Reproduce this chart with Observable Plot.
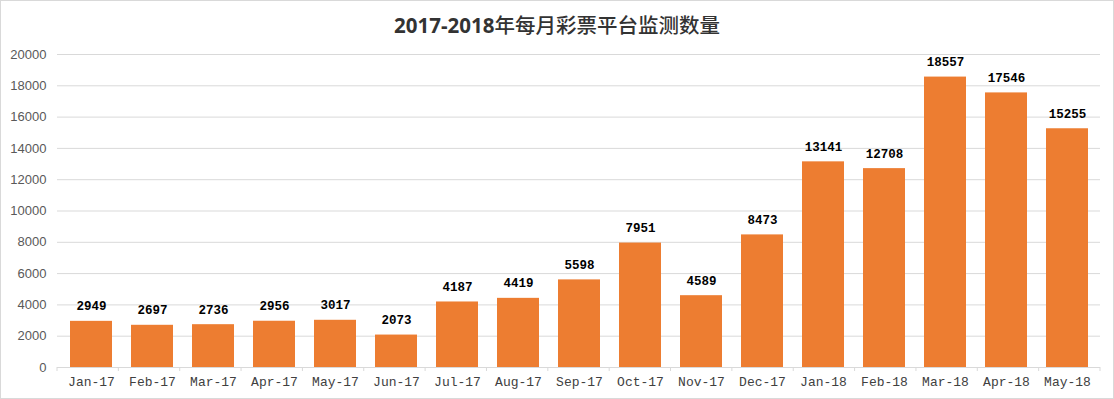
<!DOCTYPE html>
<html>
<head>
<meta charset="utf-8">
<script src="https://cdn.jsdelivr.net/npm/d3@7"></script>
<script src="https://cdn.jsdelivr.net/npm/@observablehq/plot@0.6"></script>
<style>
  html, body { margin: 0; padding: 0; background: #fff; }
  #frame { position: absolute; left: 0; top: 0; width: 1114px; height: 399px; box-sizing: border-box; border: 1px solid #d9d9d9; background: #fff; }
  #title { height: 41px; line-height: 46px; text-align: center; font-size: 20.5px; color: #333; font-weight: 500; font-family: "Noto Sans CJK SC", "Open Sans", sans-serif; }
  #title .lat { font-family: "Open Sans", sans-serif; font-weight: bold; }
  #chart svg { display: block; }
</style>
</head>
<body>
<div id="frame">
  <div id="title"><span class="lat">2017-2018</span>年每月彩票平台监测数量</div>
  <div id="chart"></div>
</div>
<script>
const months = ["Jan-17","Feb-17","Mar-17","Apr-17","May-17","Jun-17","Jul-17","Aug-17","Sep-17","Oct-17","Nov-17","Dec-17","Jan-18","Feb-18","Mar-18","Apr-18","May-18"];
const counts = [2949,2697,2736,2956,3017,2073,4187,4419,5598,7951,4589,8473,13141,12708,18557,17546,15255];
const yTicks = [0,2000,4000,6000,8000,10000,12000,14000,16000,18000,20000];

const data = months.map((m, i) => ({month: m, value: counts[i]}));

// category boundary ticks below the x-axis line (Excel style)
function boundaryTicks(index, scales, values, dim) {
  const g = d3.create("svg:g");
  const left = dim.marginLeft, right = dim.width - dim.marginRight;
  const y0 = scales.y(0);
  const n = months.length;
  for (let i = 0; i <= n; i++) {
    const x = left + (right - left) * i / n;
    g.append("line").attr("x1", x).attr("x2", x).attr("y1", y0).attr("y2", y0 + 4)
      .attr("stroke", "#d9d9d9").attr("stroke-width", 1);
  }
  return g.node();
}

const monoFont = "'Liberation Mono', 'Courier New', monospace";

const chart = Plot.plot({
  width: 1112,
  height: 356,
  marginLeft: 56,
  marginRight: 13,
  marginTop: 12,
  marginBottom: 31,
  style: {background: "#fff", overflow: "visible"},
  x: {domain: months, paddingInner: 0.315, paddingOuter: 0.1575, label: null},
  y: {domain: [0, 20000], ticks: yTicks, label: null},
  marks: [
    Plot.gridY(yTicks.filter(d => d > 0), {stroke: "#d9d9d9", strokeOpacity: 1, strokeWidth: 1}),
    Plot.axisY({ticks: yTicks, tickSize: 0, tickPadding: 11, tickFormat: d => String(d), fontSize: 13, fontFamily: "'Liberation Sans', Arial, sans-serif", fill: "#595959", label: null}),
    Plot.barY(data, {x: "month", y: "value", fill: "#ED7D31"}),
    Plot.ruleY([0], {stroke: "#d9d9d9", strokeWidth: 1}),
    boundaryTicks,
    Plot.axisX({tickSize: 0, tickPadding: 9, fontSize: 13, fontFamily: monoFont, fill: "#404040", label: null}),
    Plot.text(data, {x: "month", y: "value", text: d => String(d.value), dy: -15, fontSize: 12.5, fontWeight: "bold", fontFamily: monoFont, fill: "#000"})
  ]
});
document.getElementById("chart").appendChild(chart);
</script>
</body>
</html>
